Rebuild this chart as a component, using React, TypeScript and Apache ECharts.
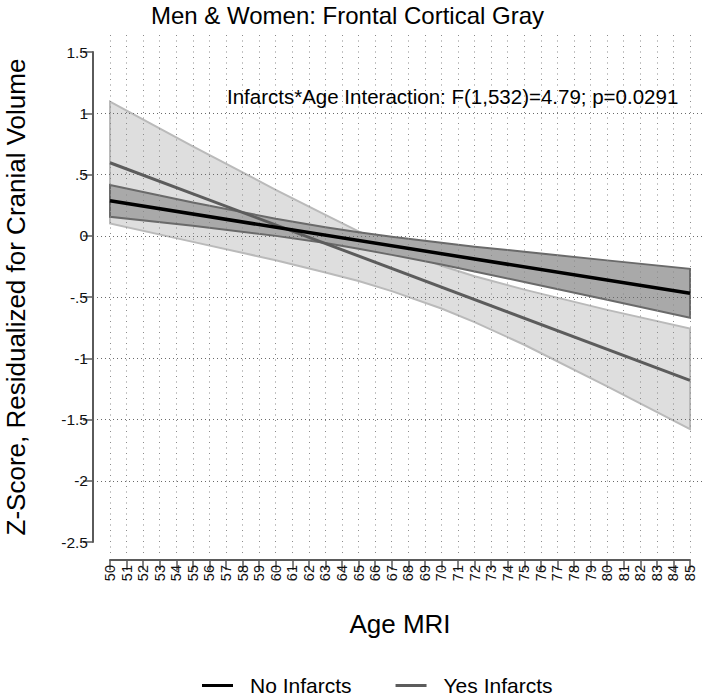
import React, { useEffect, useRef } from "react";
import * as echarts from "echarts";

// ---- data ----
const bandAges = [50, 55, 60, 63, 65, 67, 70, 72, 75, 80, 85];
const noUpper = [0.415, 0.272, 0.139, 0.07, 0.028, -0.009, -0.057, -0.089, -0.131, -0.201, -0.27];
const noLower = [0.155, 0.082, -0.001, -0.06, -0.106, -0.156, -0.235, -0.291, -0.377, -0.523, -0.67];
const yesUpper = [1.095, 0.73, 0.375, 0.17, 0.035, -0.085, -0.245, -0.33, -0.44, -0.605, -0.757];
const yesLower = [0.1, -0.05, -0.2, -0.3, -0.37, -0.452, -0.594, -0.705, -0.89, -1.23, -1.578];

const fitAges = [50, 85];
const noFit = [0.285, -0.47];
const yesFit = [0.596, -1.18];

const seriesNames = ["No Infarcts", "Yes Infarcts"];

const xTickLabels = [
  "50", "51", "52", "53", "54", "55", "56", "57", "58", "59", "60", "61",
  "62", "63", "64", "65", "66", "67", "68", "69", "70", "71", "72", "73",
  "74", "75", "76", "77", "78", "79", "80", "81", "82", "83", "84", "85",
];
const yTickValues = [-2.5, -2, -1.5, -1, -0.5, 0, 0.5, 1, 1.5];
const yTickLabels = ["-2.5", "-2", "-1.5", "-1", "-.5", "0", ".5", "1", "1.5"];

const titleText = "Men & Women: Frontal Cortical Gray";
const noteText = "Infarcts*Age Interaction: F(1,532)=4.79; p=0.0291";
const xTitle = "Age MRI";
const yTitle = "Z-Score, Residualized for Cranial Volume";

const FONT = "'Liberation Sans', Arial, Helvetica, sans-serif";

function bandSeries(name: string, lower: number[], upper: number[], fill: string, stroke: string, z: number) {
  return {
    type: "custom",
    name,
    xAxisIndex: 0,
    yAxisIndex: 0,
    silent: true,
    z,
    data: bandAges.map((a, i) => [a, lower[i], upper[i]]),
    renderItem: (params: any, api: any) => {
      if (params.dataIndex !== 0) return null;
      const pts: number[][] = [];
      for (let i = 0; i < bandAges.length; i++) pts.push(api.coord([bandAges[i], upper[i]]));
      for (let i = bandAges.length - 1; i >= 0; i--) pts.push(api.coord([bandAges[i], lower[i]]));
      return {
        type: "polygon",
        shape: { points: pts },
        style: { fill, stroke, lineWidth: 2, lineJoin: "miter" },
      };
    },
  };
}

export default function App() {
  const ref = useRef<HTMLDivElement>(null);
  useEffect(() => {
    if (!ref.current) return;
    const chart = echarts.init(ref.current, null, { renderer: "svg" });
    const axisGray = "#5a5a5a";
    const option: any = {
      animation: false,
      backgroundColor: "#ffffff",
      textStyle: { fontFamily: FONT },
      grid: [
        { left: 110, right: 19, top: 52, bottom: 157, containLabel: false, outerBoundsMode: "none" },
        { left: 110, right: 19, top: 35, bottom: 144, containLabel: false, outerBoundsMode: "none" },
        { left: 97, right: 6, top: 52, bottom: 157, containLabel: false, outerBoundsMode: "none" },
      ],
      xAxis: [
        {
          gridIndex: 0,
          type: "value",
          min: 50,
          max: 85,
          interval: 1,
          offset: 18,
          position: "bottom",
          axisLine: { show: true, onZero: false, lineStyle: { color: axisGray, width: 2 } },
          axisTick: { show: true, length: 10, lineStyle: { color: axisGray, width: 1.5 } },
          axisLabel: {
            rotate: 90,
            margin: 5,
            fontSize: 14.5,
            color: "#111",
            fontFamily: FONT,
            formatter: (v: number) => xTickLabels[Math.round(v - 50)] ?? "",
          },
          splitLine: { show: false },
          name: xTitle,
          nameLocation: "middle",
          nameGap: 51,
          nameTextStyle: { fontSize: 26, color: "#000", fontFamily: FONT },
        },
        {
          gridIndex: 1,
          type: "value",
          min: 50,
          max: 85,
          interval: 1,
          z: 3,
          axisLine: { show: false, onZero: false },
          axisTick: { show: false },
          axisLabel: { show: false },
          splitLine: { show: true, lineStyle: { color: "#8a8a8a", width: 1, type: [1, 4.5] } },
        },
        {
          gridIndex: 2,
          type: "value",
          min: 0,
          max: 1,
          axisLine: { show: false, onZero: false },
          axisTick: { show: false },
          axisLabel: { show: false },
          splitLine: { show: false },
        },
      ],
      yAxis: [
        {
          gridIndex: 0,
          type: "value",
          min: -2.5,
          max: 1.5,
          interval: 0.5,
          offset: 17,
          axisLine: { show: true, onZero: false, lineStyle: { color: axisGray, width: 2 } },
          axisTick: { show: true, length: 10, lineStyle: { color: axisGray, width: 1.5 } },
          axisLabel: {
            margin: 5,
            fontSize: 15.5,
            color: "#111",
            fontFamily: FONT,
            formatter: (v: number) => {
              const i = yTickValues.findIndex((t) => Math.abs(t - v) < 1e-9);
              return i >= 0 ? yTickLabels[i] : "";
            },
          },
          splitLine: { show: false },
          name: yTitle,
          nameLocation: "middle",
          nameGap: 64,
          nameRotate: 90,
          nameTextStyle: { fontSize: 26, color: "#000", fontFamily: FONT },
        },
        {
          gridIndex: 1,
          type: "value",
          min: 0,
          max: 1,
          axisLine: { show: false, onZero: false },
          axisTick: { show: false },
          axisLabel: { show: false },
          splitLine: { show: false },
        },
        {
          gridIndex: 2,
          type: "value",
          min: -2.5,
          max: 1.5,
          interval: 0.5,
          z: 3,
          axisLine: { show: false, onZero: false },
          axisTick: { show: false },
          axisLabel: { show: false },
          splitLine: {
            show: true,
            showMinLine: false,
            showMaxLine: false,
            lineStyle: { color: "#6a6a6a", width: 1, type: [1, 3] },
          },
        },
      ],
      legend: {
        data: seriesNames,
        left: 202,
        top: 675,
        padding: 0,
        itemGap: 44,
        itemWidth: 31,
        itemHeight: 3,
        icon: "rect",
        textStyle: { fontSize: 21, color: "#000", fontFamily: FONT, padding: [0, 0, 0, 12] },
      },
      graphic: [
        {
          type: "text",
          x: 347.5,
          y: 15,
          style: {
            text: titleText,
            fontSize: 24,
            fontFamily: FONT,
            fill: "#000",
            textAlign: "center",
            textVerticalAlign: "middle",
          },
        },
        {
          type: "text",
          x: 227,
          y: 96,
          z: 10,
          style: {
            text: noteText,
            fontSize: 20.5,
            fontFamily: FONT,
            fill: "#000",
            textAlign: "left",
            textVerticalAlign: "middle",
          },
        },
      ],
      series: [
        bandSeries("Yes band", yesLower, yesUpper, "#dedede", "#bababa", 1),
        bandSeries("No band", noLower, noUpper, "#a9a9a9", "#6a6a6a", 2),
        {
          type: "line",
          name: seriesNames[0],
          xAxisIndex: 0,
          yAxisIndex: 0,
          z: 6,
          symbol: "none",
          showSymbol: false,
          data: fitAges.map((a, i) => [a, noFit[i]]),
          lineStyle: { color: "#000", width: 3.5 },
          itemStyle: { color: "#000" },
        },
        {
          type: "line",
          name: seriesNames[1],
          xAxisIndex: 0,
          yAxisIndex: 0,
          z: 5,
          symbol: "none",
          showSymbol: false,
          data: fitAges.map((a, i) => [a, yesFit[i]]),
          lineStyle: { color: "#5c5c5c", width: 3 },
          itemStyle: { color: "#5c5c5c" },
        },
      ],
    };
    chart.setOption(option);
    return () => chart.dispose();
  }, []);
  return (
    <div
      ref={ref}
      style={{ position: "fixed", left: 0, top: 0, width: 709, height: 699, background: "#fff" }}
    />
  );
}
